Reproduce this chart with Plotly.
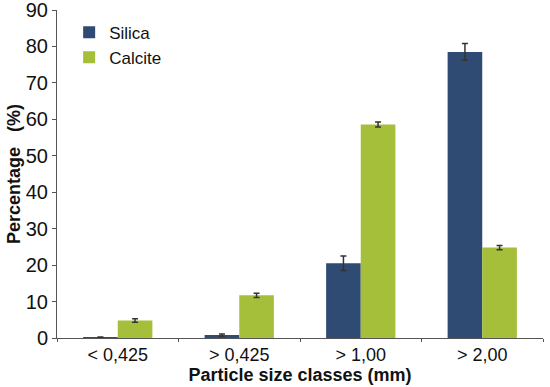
import plotly.graph_objects as go

categories = ["< 0,425", "> 0,425", "> 1,00", "> 2,00"]
silica = [0.2, 0.8, 20.5, 78.5]
silica_err = [0.1, 0.3, 2.0, 2.3]
calcite = [4.8, 11.7, 58.6, 24.8]
calcite_err = [0.5, 0.6, 0.7, 0.6]
y_ticks = [0, 10, 20, 30, 40, 50, 60, 70, 80, 90]

font = "Liberation Sans, Arial, sans-serif"

fig = go.Figure()
fig.add_trace(go.Bar(
    x=categories, y=silica, name="Silica",
    marker=dict(color="#2F4B73", line=dict(width=0)),
    error_y=dict(type="data", array=silica_err, color="#333333", thickness=1.5, width=3),
))
fig.add_trace(go.Bar(
    x=categories, y=calcite, name="Calcite",
    marker=dict(color="#A5BF3B", line=dict(width=0)),
    error_y=dict(type="data", array=calcite_err, color="#333333", thickness=1.5, width=3),
))

fig.update_layout(
    width=550, height=387,
    margin=dict(l=57, r=7, t=10, b=49),
    paper_bgcolor="white", plot_bgcolor="white",
    barmode="group", bargap=0.43, bargroupgap=0,
    font=dict(family=font, color="#111111"),
    legend=dict(x=0.025, y=0.986, xanchor="left", yanchor="top",
                font=dict(size=17, family=font), bgcolor="rgba(0,0,0,0)",
                itemwidth=30, tracegroupgap=0),
    showlegend=True,
)
fig.update_xaxes(
    automargin=False,
    showline=True, linecolor="#555555", linewidth=1,
    ticks="outside", tickson="boundaries", ticklen=3, tickcolor="#555555",
    tickfont=dict(size=18, family=font),
    title=dict(text="<b>Particle size classes (mm)</b>", font=dict(size=18, family=font), standoff=0),
    showgrid=False,
)
fig.update_yaxes(
    automargin=False,
    range=[0, 90], tickvals=y_ticks, ticklabeloverflow="allow",
    showline=True, linecolor="#555555", linewidth=1,
    ticks="outside", ticklen=4, tickcolor="#555555",
    tickfont=dict(size=20, family=font),
    title=dict(text="<b>Percentage   (%)</b>", font=dict(size=18, family=font), standoff=0),
    showgrid=False, zeroline=False,
)

fig.write_html("out.html", config={"displayModeBar": False},
               post_script="document.body.style.margin='0';document.body.style.padding='0';")
